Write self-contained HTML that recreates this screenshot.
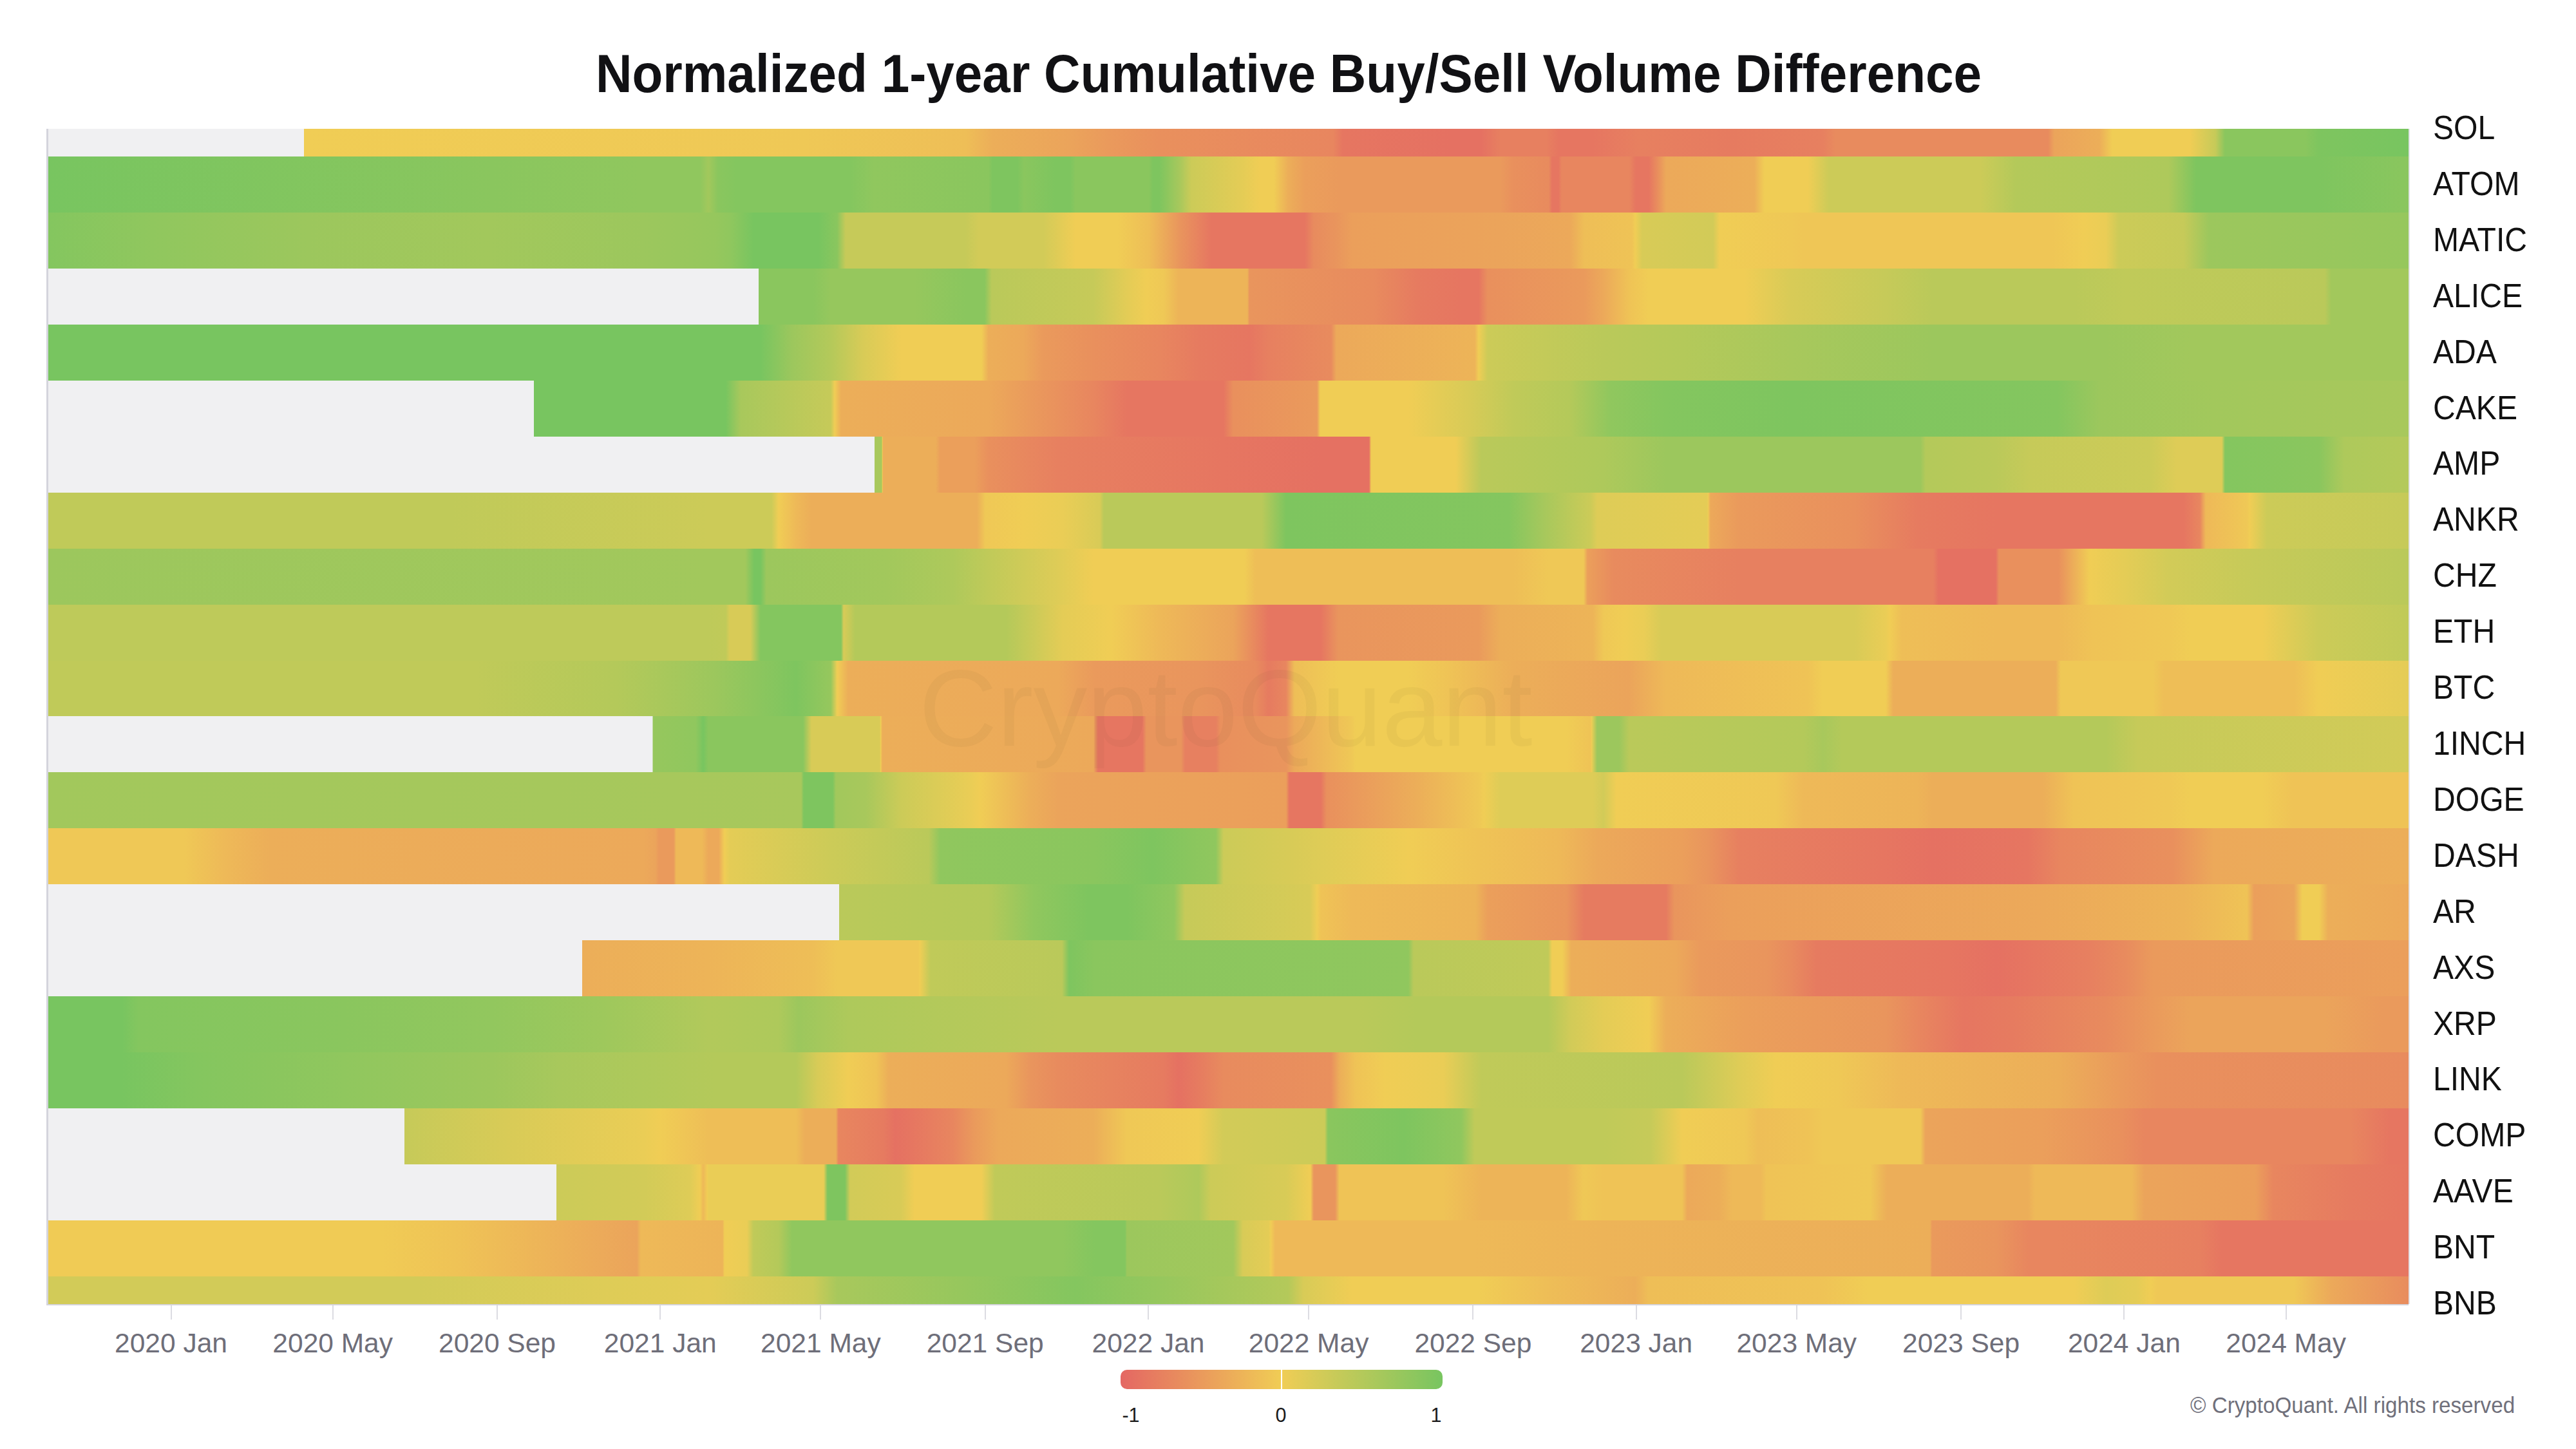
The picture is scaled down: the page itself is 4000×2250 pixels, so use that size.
<!DOCTYPE html>
<html><head><meta charset="utf-8">
<style>
html,body{margin:0;padding:0;background:#fff;}
body{width:4000px;height:2250px;position:relative;overflow:hidden;font-family:"Liberation Sans",sans-serif;}
.title{position:absolute;left:0;width:4002px;top:64px;text-align:center;font-weight:bold;font-size:84px;line-height:100px;color:#111114;white-space:nowrap;transform:scaleX(0.932);transform-origin:2001px 0;}
.r{position:absolute;left:75px;width:3665px;}
.axl{position:absolute;left:72px;top:200px;width:3px;height:1827px;background:#d4d4dc;}
.axb{position:absolute;left:72px;top:2025px;width:3668px;height:2px;background:#d4d4dc;}
.axr{position:absolute;left:3740px;top:200px;width:2px;height:1825px;background:#e2e2e8;}
.tk{position:absolute;top:2027px;width:2px;height:22px;background:#dcdce2;}
.xl{position:absolute;top:2061px;width:300px;text-align:center;font-size:42.5px;line-height:50px;color:#6e6e79;white-space:nowrap;}
.yl{position:absolute;left:3778px;font-size:52px;line-height:60px;color:#111;white-space:nowrap;transform:scaleX(0.925);transform-origin:0 0;}
.wm{position:absolute;left:1427px;top:1010px;font-size:168px;line-height:180px;color:rgba(60,40,20,0.04);white-space:nowrap;}
.leg{position:absolute;left:1740px;top:2127px;width:500px;height:30px;border-radius:10px;background:linear-gradient(to right,#e46763 0%,#f0cd55 50%,#78c560 100%);}
.legz{position:absolute;left:1988.5px;top:2127px;width:2px;height:30px;background:#fff;}
.ll{position:absolute;top:2180px;width:100px;text-align:center;font-size:30.5px;line-height:34px;color:#1a1a1a;}
.cr{position:absolute;left:3401px;top:2160px;font-size:35.5px;line-height:44px;color:#70707b;white-space:nowrap;transform:scaleX(0.935);transform-origin:0 0;}
</style></head><body>
<div class="title">Normalized 1-year Cumulative Buy/Sell Volume Difference</div>
<div class="r" style="top:200.00px;height:43.00px;background:linear-gradient(to right,#f0f0f2 0.0px,#f0f0f2 397.0px,#f0cd55 397.0px,#efc856 1175.0px,#eebe57 1425.0px,#ecae59 1466.0px,#eba45b 1585.0px,#ea9a5c 1645.0px,#e9905d 1725.0px,#e8865f 1995.0px,#e67661 2010.0px,#e57162 2175.0px,#e57162 2225.0px,#e78060 2255.0px,#e78060 2326.0px,#e67661 2345.0px,#e67661 2398.0px,#e78060 2470.0px,#e67b60 2615.0px,#e78060 2756.0px,#e88b5e 2775.0px,#e88b5e 3105.0px,#eba45b 3115.0px,#ecae59 3185.0px,#f0cd55 3205.0px,#f0cd55 3325.0px,#c6ca59 3365.0px,#8ac65e 3380.0px,#8ac65e 3505.0px,#7ec55f 3525.0px,#78c560 3665.0px)"></div>
<div class="r" style="top:243.00px;height:87.00px;background:linear-gradient(to right,#78c560 0.0px,#8ac65e 689.0px,#90c75e 920.0px,#90c75e 1012.0px,#a2c85c 1025.0px,#8ac65e 1040.0px,#84c65f 1068.0px,#84c65f 1210.0px,#84c65f 1245.0px,#90c75e 1282.0px,#8ac65e 1460.0px,#7ec55f 1466.0px,#7ec55f 1505.0px,#8ac65e 1515.0px,#7ec55f 1563.0px,#7ec55f 1587.0px,#8ac65e 1595.0px,#8ac65e 1709.0px,#7ec55f 1715.0px,#7ec55f 1725.0px,#8ac65e 1735.0px,#a8c85c 1757.0px,#cccb58 1775.0px,#e4cc56 1854.0px,#f0cd55 1882.0px,#f0cd55 1903.0px,#ecae59 1925.0px,#eb9f5b 1951.0px,#ea9a5c 2004.0px,#ea9a5c 2255.0px,#e9905d 2275.0px,#e88b5e 2330.0px,#e67661 2335.0px,#e67661 2345.0px,#e8865f 2350.0px,#e8865f 2455.0px,#e67661 2465.0px,#e67661 2485.0px,#e9905d 2500.0px,#eca95a 2512.0px,#ecae59 2649.0px,#f0cd55 2665.0px,#f0cd55 2732.0px,#cccb58 2765.0px,#cccb58 3000.0px,#b4c95a 3055.0px,#aec95b 3292.0px,#7ec55f 3335.0px,#7ec55f 3525.0px,#8ac65e 3665.0px)"></div>
<div class="r" style="top:330.00px;height:87.00px;background:linear-gradient(to right,#84c65f 0.0px,#90c75e 159.0px,#9cc75d 401.0px,#a2c85c 682.0px,#9cc75d 925.0px,#96c75d 1035.0px,#90c75e 1058.0px,#78c560 1095.0px,#78c560 1196.0px,#8ac65e 1225.0px,#c6ca59 1238.0px,#c6ca59 1424.0px,#d2cb58 1445.0px,#d2cb58 1545.0px,#f0cd55 1595.0px,#f0cd55 1660.0px,#eebe57 1709.0px,#e9955d 1757.0px,#e67661 1806.0px,#e67661 1951.0px,#e88b5e 1965.0px,#e9955d 2000.0px,#eb9f5b 2025.0px,#eba45b 2255.0px,#eca95a 2363.0px,#eebe57 2385.0px,#efc356 2459.0px,#f0cd55 2464.3px,#d8cb57 2475.0px,#d2cb58 2585.0px,#f0cd55 2595.0px,#efc856 2707.0px,#efc656 2725.0px,#efc656 3112.0px,#f0cd55 3160.4px,#eacd56 3195.0px,#cccb58 3215.0px,#c6ca59 3316.0px,#9cc75d 3355.0px,#96c75d 3665.0px)"></div>
<div class="r" style="top:417.00px;height:87.00px;background:linear-gradient(to right,#f0f0f2 0.0px,#f0f0f2 1103.0px,#8ac65e 1103.0px,#8ac65e 1188.0px,#96c75d 1215.0px,#96c75d 1345.0px,#8ac65e 1425.0px,#8ac65e 1454.0px,#bac95a 1465.0px,#c6ca59 1623.0px,#e4cc56 1677.0px,#f0cd55 1705.0px,#efc856 1732.0px,#edb458 1755.0px,#edb458 1862.0px,#e9955d 1865.0px,#e88b5e 2058.0px,#e67b60 2125.0px,#e67661 2194.0px,#e67661 2221.0px,#e9905d 2235.0px,#ea9a5c 2384.0px,#eca95a 2415.0px,#efc356 2455.0px,#f0cd55 2485.0px,#f0cd55 2634.0px,#d8cb57 2705.0px,#c6ca59 2853.0px,#bac95a 2925.0px,#bac95a 3146.0px,#c0ca59 3225.0px,#bac95a 3535.0px,#a2c85c 3545.0px,#a2c85c 3665.0px)"></div>
<div class="r" style="top:504.00px;height:87.00px;background:linear-gradient(to right,#78c560 0.0px,#78c560 1106.0px,#9cc75d 1155.0px,#b4c95a 1215.0px,#d8cb57 1265.0px,#f0cd55 1325.0px,#f0cd55 1449.0px,#ecae59 1460.0px,#eca95a 1514.0px,#ea9a5c 1545.0px,#e9905d 1623.0px,#e8865f 1725.0px,#e67b60 1786.0px,#e67661 1865.0px,#e78060 1895.0px,#e88b5e 1992.0px,#eca95a 2000.0px,#edb458 2215.0px,#f0cd55 2221.0px,#cccb58 2235.0px,#bac95a 2415.0px,#b4c95a 2537.0px,#a8c85c 2707.0px,#9cc75d 2925.0px,#9cc75d 3195.0px,#a2c85c 3325.0px,#a2c85c 3665.0px)"></div>
<div class="r" style="top:591.00px;height:87.00px;background:linear-gradient(to right,#f0f0f2 0.0px,#f0f0f2 754.0px,#78c560 754.0px,#78c560 1052.0px,#a8c85c 1075.0px,#c6ca59 1215.0px,#f0cd55 1221.0px,#ecae59 1231.0px,#eca95a 1460.0px,#ea9a5c 1525.0px,#e8865f 1623.0px,#e67661 1675.0px,#e67661 1825.0px,#e9905d 1840.0px,#ea9a5c 1970.0px,#f0cd55 1975.0px,#f0cd55 2112.0px,#d8cb57 2205.0px,#c0ca59 2275.0px,#b4c95a 2363.0px,#90c75e 2425.0px,#84c65f 2512.0px,#7ec55f 2707.0px,#84c65f 3120.0px,#9cc75d 3185.0px,#a2c85c 3361.0px,#a8c85c 3665.0px)"></div>
<div class="r" style="top:678.00px;height:87.00px;background:linear-gradient(to right,#f0f0f2 0.0px,#f0f0f2 1283.0px,#a8c85c 1283.0px,#a8c85c 1294.0px,#f0cd55 1295.3px,#ecae59 1296.0px,#ecae59 1378.0px,#eb9f5b 1385.0px,#eb9f5b 1438.0px,#e9905d 1460.0px,#e78060 1568.0px,#e67661 1825.0px,#e57162 1975.0px,#e57162 2051.0px,#f0cd55 2054.0px,#f0cd55 2185.0px,#bac95a 2225.0px,#aec95b 2415.0px,#9cc75d 2512.0px,#9cc75d 2907.0px,#b4c95a 2915.0px,#bac95a 3024.0px,#c6ca59 3075.0px,#cccb58 3263.0px,#decc57 3305.0px,#decc57 3375.0px,#84c65f 3380.0px,#8ac65e 3526.0px,#aec95b 3565.0px,#b4c95a 3665.0px)"></div>
<div class="r" style="top:765.00px;height:87.00px;background:linear-gradient(to right,#c0ca59 0.0px,#c0ca59 625.0px,#cccb58 1025.0px,#cccb58 1123.0px,#f0cd55 1134.0px,#eeb958 1161.0px,#ecae59 1185.0px,#ecae59 1442.0px,#efc856 1455.0px,#f0cd55 1514.0px,#eacd56 1575.0px,#d8cb57 1633.0px,#bac95a 1639.0px,#bac95a 1884.0px,#7ec55f 1922.0px,#84c65f 2268.0px,#a8c85c 2325.0px,#cccb58 2395.0px,#decc57 2405.0px,#e4cc56 2576.0px,#f0cd55 2577.1px,#eca95a 2581.0px,#ea9a5c 2625.0px,#e9905d 2805.0px,#e67b60 2902.0px,#e67661 3025.0px,#e67661 3316.0px,#e8865f 3341.0px,#eeb958 3350.0px,#efc856 3414.0px,#f0cd55 3418.4px,#cccb58 3445.0px,#c6ca59 3665.0px)"></div>
<div class="r" style="top:852.00px;height:87.00px;background:linear-gradient(to right,#9cc75d 0.0px,#a2c85c 1025.0px,#a2c85c 1082.0px,#78c560 1096.0px,#78c560 1106.0px,#9cc75d 1115.0px,#a2c85c 1303.0px,#aec95b 1405.0px,#c0ca59 1460.0px,#decc57 1568.0px,#f0cd55 1623.0px,#f0cd55 1857.0px,#eebe57 1875.0px,#eebe57 2275.0px,#efc856 2329.0px,#efc856 2384.0px,#eb9f5b 2390.0px,#e88b5e 2430.0px,#e78060 2625.0px,#e78060 2927.0px,#e57162 2935.0px,#e57162 3024.0px,#e9905d 3029.0px,#e9905d 3121.0px,#f0cd55 3170.0px,#e4cc56 3225.0px,#d2cb58 3292.0px,#c6ca59 3425.0px,#bac95a 3665.0px)"></div>
<div class="r" style="top:939.00px;height:87.00px;background:linear-gradient(to right,#beca5a 0.0px,#beca5a 1025.0px,#c0ca59 1052.0px,#d8cb57 1058.0px,#d8cb57 1090.0px,#84c65f 1106.0px,#84c65f 1231.0px,#d8cb57 1235.0px,#b4c95a 1253.0px,#b4c95a 1487.0px,#e4cc56 1575.0px,#f0cd55 1650.0px,#eeb958 1725.0px,#eba45b 1840.0px,#e67661 1895.0px,#e67661 1976.0px,#e9955d 2003.0px,#ea9a5c 2221.0px,#ecae59 2255.0px,#edb458 2398.0px,#efc856 2415.0px,#f0cd55 2446.5px,#eacd56 2478.0px,#d8cb57 2505.0px,#d8cb57 2805.0px,#eacd56 2853.0px,#f0cd55 2859.2px,#eebe57 2878.0px,#eeb958 3025.0px,#eeb958 3121.0px,#efc356 3175.0px,#efc856 3292.0px,#f0cd55 3325.0px,#f0cd55 3438.0px,#cccb58 3525.0px,#c0ca59 3670.0px)"></div>
<div class="r" style="top:1026.00px;height:86.00px;background:linear-gradient(to right,#c0ca59 0.0px,#c0ca59 662.0px,#b4c95a 883.0px,#9cc75d 1035.0px,#7ec55f 1161.0px,#96c75d 1215.0px,#f0cd55 1225.0px,#ecae59 1242.0px,#eca95a 1568.0px,#ea9a5c 1625.0px,#e9955d 1786.0px,#e88b5e 1875.0px,#e67b60 1895.0px,#e8865f 1922.0px,#eebe57 1935.0px,#f0cd55 2003.0px,#f0cd55 2112.0px,#efc356 2175.0px,#ecae59 2275.0px,#eba45b 2454.0px,#eeb958 2512.0px,#efc356 2732.0px,#f0cd55 2755.0px,#f0cd55 2853.0px,#ecae59 2865.0px,#ecae59 3117.0px,#efc856 3125.0px,#efc856 3268.0px,#eebe57 3285.0px,#eebe57 3487.0px,#f0cd55 3525.0px,#e4cc56 3670.0px)"></div>
<div class="r" style="top:1112.00px;height:87.00px;background:linear-gradient(to right,#f0f0f2 0.0px,#f0f0f2 938.0px,#96c75d 939.0px,#90c75e 1005.0px,#78c560 1017.0px,#8ac65e 1025.0px,#8ac65e 1172.0px,#d8cb57 1185.0px,#d8cb57 1291.0px,#f0cd55 1292.6px,#ecae59 1295.0px,#eca95a 1623.0px,#e67661 1630.0px,#e67661 1699.0px,#e9955d 1705.0px,#e9955d 1759.0px,#e78060 1765.0px,#e78060 1813.0px,#e9905d 1820.0px,#e9955d 1922.0px,#eca95a 1935.0px,#efc856 2024.0px,#f0cd55 2030.0px,#f0cd55 2357.0px,#efc356 2395.0px,#f0cd55 2396.2px,#9cc75d 2405.0px,#9cc75d 2439.0px,#bac95a 2455.0px,#b4c95a 2725.0px,#a8c85c 2756.0px,#b4c95a 2785.0px,#b4c95a 3195.0px,#c6ca59 3245.0px,#d2cb58 3670.0px)"></div>
<div class="r" style="top:1199.00px;height:87.00px;background:linear-gradient(to right,#a2c85c 0.0px,#a8c85c 1169.0px,#7ec55f 1173.0px,#7ec55f 1218.0px,#a2c85c 1223.0px,#a8c85c 1270.0px,#cccb58 1325.0px,#eacd56 1433.0px,#f0cd55 1446.5px,#efc856 1460.0px,#ecae59 1525.0px,#eba45b 1568.0px,#eb9f5b 1922.0px,#e67661 1927.0px,#e67661 1976.0px,#e9905d 1985.0px,#ea9a5c 2030.0px,#ecae59 2125.0px,#efc856 2221.0px,#f0cd55 2229.5px,#decc57 2255.0px,#decc57 2398.0px,#d2cb58 2415.0px,#f0cd55 2435.0px,#efc856 2683.0px,#eeb958 2725.0px,#edb458 2902.0px,#ecae59 2925.0px,#ecae59 3097.0px,#efc356 3145.0px,#efc856 3292.0px,#f0cd55 3325.0px,#f0cd55 3438.0px,#efc356 3485.0px,#efc356 3670.0px)"></div>
<div class="r" style="top:1286.00px;height:87.00px;background:linear-gradient(to right,#efc856 0.0px,#efc856 211.0px,#eeb958 275.0px,#ecae59 344.0px,#eca95a 925.0px,#eba45b 943.0px,#ea9a5c 948.0px,#ea9a5c 971.0px,#eeb958 975.0px,#eeb958 1015.0px,#eca95a 1025.0px,#eca95a 1041.0px,#f0cd55 1050.0px,#e4cc56 1058.0px,#cccb58 1215.0px,#bac95a 1367.0px,#90c75e 1385.0px,#8ac65e 1625.0px,#7ec55f 1715.0px,#8ac65e 1775.0px,#90c75e 1813.0px,#cccb58 1825.0px,#d8cb57 1933.0px,#decc57 1975.0px,#f0cd55 2112.0px,#efc356 2221.0px,#eeb958 2345.0px,#eca95a 2405.0px,#eb9f5b 2537.0px,#e9955d 2577.0px,#e78060 2625.0px,#e67661 2850.0px,#e57162 2925.0px,#e67661 3074.0px,#e8865f 3125.0px,#e9905d 3299.0px,#eca95a 3363.0px,#ecae59 3670.0px)"></div>
<div class="r" style="top:1373.00px;height:87.00px;background:linear-gradient(to right,#f0f0f2 0.0px,#f0f0f2 1228.0px,#bac95a 1228.0px,#b4c95a 1460.0px,#90c75e 1530.0px,#7ec55f 1615.0px,#7ec55f 1675.0px,#90c75e 1748.0px,#c6ca59 1765.0px,#d8cb57 1959.0px,#f0cd55 1970.3px,#efc356 1976.0px,#eeb958 2025.0px,#edb458 2216.0px,#eb9f5b 2235.0px,#e9955d 2357.0px,#e67b60 2385.0px,#e67b60 2512.0px,#e9955d 2525.0px,#eb9f5b 2610.0px,#eca95a 3097.0px,#edb458 3316.0px,#efc356 3414.0px,#eb9f5b 3425.0px,#eba45b 3487.0px,#f0cd55 3500.0px,#f0cd55 3526.0px,#ecae59 3540.0px,#eca95a 3670.0px)"></div>
<div class="r" style="top:1460.00px;height:87.00px;background:linear-gradient(to right,#f0f0f2 0.0px,#f0f0f2 829.0px,#ecae59 829.0px,#edb458 1025.0px,#eebe57 1188.0px,#efc856 1225.0px,#efc856 1351.0px,#f0cd55 1353.1px,#c0ca59 1370.0px,#bac95a 1574.0px,#7ec55f 1585.0px,#8ac65e 1625.0px,#90c75e 2112.0px,#bac95a 2120.0px,#c0ca59 2329.0px,#f0cd55 2335.0px,#f0cd55 2351.0px,#ecae59 2365.0px,#eca95a 2527.0px,#ea9a5c 2565.0px,#e9955d 2668.0px,#e88b5e 2705.0px,#e67b60 2746.0px,#e67661 2951.0px,#e57162 3025.0px,#e67661 3075.0px,#e78060 3170.0px,#e88b5e 3225.0px,#ea9a5c 3268.0px,#eb9f5b 3670.0px)"></div>
<div class="r" style="top:1547.00px;height:87.00px;background:linear-gradient(to right,#78c560 0.0px,#78c560 115.0px,#84c65f 140.0px,#8ac65e 459.0px,#92c75e 689.0px,#9ec85c 862.0px,#b2c95b 1025.0px,#aec95b 1134.0px,#9cc75d 1165.0px,#aec95b 1242.0px,#bac95a 1568.0px,#bac95a 1895.0px,#bac95a 2030.0px,#b4c95a 2125.0px,#b4c95a 2329.0px,#d2cb58 2365.0px,#e4cc56 2415.0px,#f0cd55 2485.0px,#ecae59 2512.0px,#eb9f5b 2634.0px,#e9955d 2853.0px,#e8865f 2905.0px,#e67661 2975.0px,#e67b60 3048.0px,#e88b5e 3195.0px,#ea9a5c 3268.0px,#eba45b 3325.0px,#eba45b 3535.0px,#ea9a5c 3625.0px,#ea9a5c 3670.0px)"></div>
<div class="r" style="top:1634.00px;height:87.00px;background:linear-gradient(to right,#78c560 0.0px,#78c560 113.0px,#84c65f 228.0px,#8ac65e 344.0px,#90c75e 459.0px,#9cc75d 689.0px,#a8c85c 795.0px,#aec95b 920.0px,#b4c95a 1035.0px,#b4c95a 1161.0px,#d8cb57 1195.0px,#f0cd55 1242.0px,#efc356 1286.0px,#ecae59 1305.0px,#eca95a 1487.0px,#e9955d 1525.0px,#e88b5e 1568.0px,#e67b60 1732.0px,#e57162 1755.0px,#e67b60 1786.0px,#e88b5e 1825.0px,#e9905d 1992.0px,#ecae59 2005.0px,#efc356 2030.0px,#f0cd55 2075.0px,#eacd56 2166.0px,#c0ca59 2225.0px,#bac95a 2537.0px,#decc57 2625.0px,#f0cd55 2683.0px,#efc856 2780.0px,#eeb958 2875.0px,#ecae59 3121.0px,#ea9a5c 3219.0px,#e9905d 3275.0px,#e88b5e 3670.0px)"></div>
<div class="r" style="top:1721.00px;height:87.00px;background:linear-gradient(to right,#f0f0f2 0.0px,#f0f0f2 553.0px,#c6ca59 553.0px,#d8cb57 711.0px,#eacd56 925.0px,#f0cd55 950.0px,#eebe57 1025.0px,#eebe57 1161.0px,#ecae59 1175.0px,#ecae59 1223.0px,#e8865f 1227.0px,#e67b60 1297.0px,#e57162 1315.0px,#e67661 1340.0px,#e8865f 1405.0px,#ea9a5c 1438.0px,#eca95a 1475.0px,#ecae59 1623.0px,#efc856 1675.0px,#f0cd55 1786.0px,#d2cb58 1825.0px,#cccb58 1982.0px,#8ac65e 1987.0px,#7ec55f 2105.0px,#90c75e 2194.0px,#c0ca59 2215.0px,#c0ca59 2415.0px,#c6ca59 2488.0px,#f0cd55 2537.0px,#efc856 2634.0px,#eebe57 2655.0px,#efc356 2732.0px,#efc856 2755.0px,#efc856 2907.0px,#eba45b 2915.0px,#eb9f5b 3097.0px,#e9905d 3219.0px,#e8865f 3255.0px,#e8865f 3575.0px,#e67661 3635.0px,#e67661 3670.0px)"></div>
<div class="r" style="top:1808.00px;height:87.00px;background:linear-gradient(to right,#f0f0f2 0.0px,#f0f0f2 789.0px,#cccb58 789.0px,#d2cb58 925.0px,#decc57 996.0px,#f0cd55 1012.0px,#eeb958 1017.0px,#f0cd55 1023.4px,#eacd56 1025.0px,#eacd56 1204.0px,#7ec55f 1210.0px,#7ec55f 1237.0px,#d2cb58 1245.0px,#d8cb57 1324.0px,#f0cd55 1345.0px,#f0cd55 1449.0px,#c0ca59 1470.0px,#bac95a 1725.0px,#aec95b 1786.0px,#cccb58 1805.0px,#d8cb57 1922.0px,#f0cd55 1960.0px,#e9955d 1965.0px,#e9955d 1998.0px,#efc356 2005.0px,#efc356 2166.0px,#edb458 2225.0px,#edb458 2357.0px,#efc856 2384.0px,#efc356 2415.0px,#efc356 2537.0px,#eca95a 2545.0px,#ecae59 2595.0px,#eeb958 2615.0px,#eeb958 2659.0px,#efc356 2668.0px,#efc856 2829.0px,#ecae59 2855.0px,#ecae59 3074.0px,#eeb958 3085.0px,#eeb958 3235.0px,#eba45b 3255.0px,#eb9f5b 3427.0px,#e8865f 3455.0px,#e67b60 3575.0px,#e67661 3670.0px)"></div>
<div class="r" style="top:1895.00px;height:87.00px;background:linear-gradient(to right,#f0cb55 0.0px,#f0cb55 517.0px,#efc356 632.0px,#eba45b 914.0px,#eeb958 920.0px,#edb458 1047.0px,#f0cd55 1050.0px,#eacd56 1085.0px,#c0ca59 1095.0px,#b4c95a 1134.0px,#90c75e 1155.0px,#90c75e 1575.0px,#84c65f 1625.0px,#84c65f 1672.0px,#9cc75d 1675.0px,#a2c85c 1840.0px,#d8cb57 1855.0px,#e4cc56 1895.0px,#f0cd55 1898.3px,#eeb958 1905.0px,#eeb958 2212.0px,#edb458 2415.0px,#ecae59 2922.0px,#ea9a5c 2925.0px,#e9955d 3025.0px,#e8865f 3075.0px,#e8865f 3117.0px,#e78060 3341.0px,#e67661 3375.0px,#e67661 3670.0px)"></div>
<div class="r" style="top:1982.00px;height:43.00px;background:linear-gradient(to right,#d2cb58 0.0px,#d2cb58 575.0px,#decc57 862.0px,#e4cc56 1025.0px,#cccb58 1188.0px,#a8c85c 1225.0px,#96c75d 1425.0px,#84c65f 1595.0px,#96c75d 1725.0px,#b4c95a 1925.0px,#d8cb57 1949.0px,#f0cd55 2025.0px,#f0cd55 2221.0px,#eebe57 2325.0px,#edb458 2415.0px,#ecae59 2464.0px,#eebe57 2485.0px,#efc356 2756.0px,#f0cd55 2825.0px,#f0cd55 3146.0px,#decc57 3195.0px,#e4cc56 3243.0px,#f0cd55 3264.3px,#efc856 3275.0px,#efc856 3487.0px,#eca95a 3545.0px,#e88b5e 3670.0px)"></div>
<div class="axl"></div>
<div class="axb"></div>
<div class="axr"></div>
<div class="wm">CryptoQuant</div>
<div class="tk" style="left:264.5px"></div>
<div class="xl" style="left:115.5px">2020 Jan</div>
<div class="tk" style="left:515.7px"></div>
<div class="xl" style="left:366.7px">2020 May</div>
<div class="tk" style="left:771.0px"></div>
<div class="xl" style="left:622.0px">2020 Sep</div>
<div class="tk" style="left:1024.3px"></div>
<div class="xl" style="left:875.3px">2021 Jan</div>
<div class="tk" style="left:1273.4px"></div>
<div class="xl" style="left:1124.4px">2021 May</div>
<div class="tk" style="left:1528.7px"></div>
<div class="xl" style="left:1379.7px">2021 Sep</div>
<div class="tk" style="left:1782.0px"></div>
<div class="xl" style="left:1633.0px">2022 Jan</div>
<div class="tk" style="left:2031.1px"></div>
<div class="xl" style="left:1882.1px">2022 May</div>
<div class="tk" style="left:2286.4px"></div>
<div class="xl" style="left:2137.4px">2022 Sep</div>
<div class="tk" style="left:2539.7px"></div>
<div class="xl" style="left:2390.7px">2023 Jan</div>
<div class="tk" style="left:2788.8px"></div>
<div class="xl" style="left:2639.8px">2023 May</div>
<div class="tk" style="left:3044.1px"></div>
<div class="xl" style="left:2895.1px">2023 Sep</div>
<div class="tk" style="left:3297.4px"></div>
<div class="xl" style="left:3148.4px">2024 Jan</div>
<div class="tk" style="left:3548.6px"></div>
<div class="xl" style="left:3399.6px">2024 May</div>
<div class="yl" style="top:168.0px">SOL</div>
<div class="yl" style="top:254.9px">ATOM</div>
<div class="yl" style="top:341.8px">MATIC</div>
<div class="yl" style="top:428.7px">ALICE</div>
<div class="yl" style="top:515.6px">ADA</div>
<div class="yl" style="top:602.5px">CAKE</div>
<div class="yl" style="top:689.4px">AMP</div>
<div class="yl" style="top:776.3px">ANKR</div>
<div class="yl" style="top:863.2px">CHZ</div>
<div class="yl" style="top:950.1px">ETH</div>
<div class="yl" style="top:1037.0px">BTC</div>
<div class="yl" style="top:1124.0px">1INCH</div>
<div class="yl" style="top:1210.9px">DOGE</div>
<div class="yl" style="top:1297.8px">DASH</div>
<div class="yl" style="top:1384.7px">AR</div>
<div class="yl" style="top:1471.6px">AXS</div>
<div class="yl" style="top:1558.5px">XRP</div>
<div class="yl" style="top:1645.4px">LINK</div>
<div class="yl" style="top:1732.3px">COMP</div>
<div class="yl" style="top:1819.2px">AAVE</div>
<div class="yl" style="top:1906.1px">BNT</div>
<div class="yl" style="top:1993.0px">BNB</div>
<div class="leg"></div>
<div class="legz"></div>
<div class="ll" style="left:1706px">-1</div>
<div class="ll" style="left:1939px">0</div>
<div class="ll" style="left:2180px">1</div>
<div class="cr">© CryptoQuant. All rights reserved</div>
</body></html>
